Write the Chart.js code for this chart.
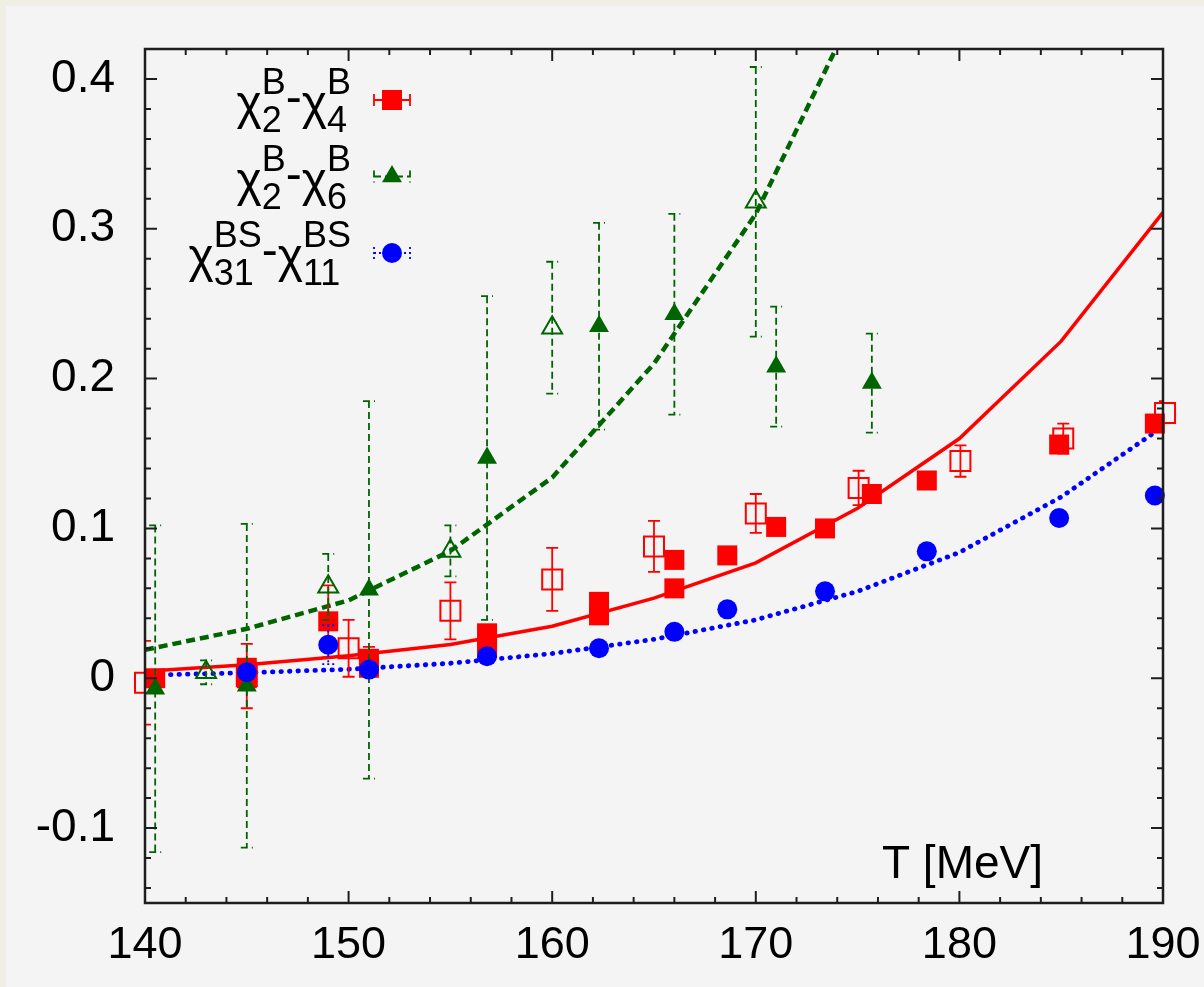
<!DOCTYPE html>
<html>
<head>
<meta charset="utf-8">
<script src="https://cdn.jsdelivr.net/npm/chart.js@4/dist/chart.umd.min.js"></script>
<style>
  html, body { margin: 0; padding: 0; background: #efefe3; overflow: hidden; }
  #chart { display: block; }
</style>
</head>
<body>
<canvas id="chart" width="1204" height="987"></canvas>
<script>
// ── DATA ──────────────────────────────────────────────────────────────────────

const xTicks = [140, 150, 160, 170, 180, 190];
const yTicks = [-0.1, 0, 0.1, 0.2, 0.3, 0.4];

// model curves
const curveT = [140, 145, 150, 155, 160, 165, 170, 175, 180, 185, 190];
const curveChi4 = [0.0047, 0.009, 0.015, 0.0225, 0.0347, 0.0535, 0.077, 0.1135, 0.160, 0.225, 0.311];
const curveBS = [0.002, 0.0037, 0.006, 0.010, 0.0165, 0.026, 0.039, 0.058, 0.084, 0.121, 0.168];
const curveT6 = [140, 145, 150, 155, 160, 165, 170, 175];
const curveChi6 = [0.019, 0.033, 0.052, 0.085, 0.134, 0.21, 0.31, 0.45];

// chi2-chi4, filled squares
const chi4T = [140.5, 145, 145, 149, 151, 151, 156.8, 156.8, 162.3, 162.3, 166, 166, 168.6, 171, 173.4, 175.7, 178.4, 184.9, 189.6];
const chi4V = [0.000, 0.007, 0.000, 0.038, 0.013, 0.007, 0.030, 0.020, 0.051, 0.042, 0.079, 0.060, 0.082, 0.101, 0.100, 0.123, 0.132, 0.156, 0.170];
const chi4E = [0.004, 0.004, 0.004, 0.024, 0.008, 0.006, 0.005, 0.005, 0.005, 0.005, 0.004, 0.004, 0.004, 0.004, 0.004, 0.004, 0.004, 0.004, 0.004];

// chi2-chi4, open squares
const chi4oT = [140.0, 145.0, 150.0, 155.0, 160.0, 165.0, 170.0, 175.05, 180.05, 185.1, 190.1];
const chi4oV = [-0.003, 0.0015, 0.020, 0.045, 0.066, 0.088, 0.110, 0.127, 0.145, 0.160, 0.177];
const chi4oE = [0.028, 0.0215, 0.019, 0.019, 0.021, 0.017, 0.013, 0.0115, 0.0105, 0.010, 0.008];

// chi2-chi6, filled triangles
const chi6T = [140.5, 145.0, 151.0, 156.8, 162.3, 166.0, 171.0, 175.7];
const chi6V = [-0.007, -0.005, 0.059, 0.147, 0.235, 0.243, 0.208, 0.197];
const chi6E = [0.109, 0.108, 0.126, 0.108, 0.069, 0.067, 0.040, 0.033];

// chi2-chi6, open triangles
const chi6oT = [143.0, 149.0, 155.0, 160.0, 170.0];
const chi6oV = [0.004, 0.061, 0.085, 0.234, 0.318];
const chi6oE = [0.008, 0.022, 0.017, 0.044, 0.090];

// chi31-chi11 (BS), circles
const bsT = [145.0, 149.0, 151.0, 156.8, 162.3, 166.0, 168.6, 173.4, 178.4, 184.9, 189.6];
const bsV = [0.004, 0.0224, 0.0058, 0.0147, 0.020, 0.031, 0.046, 0.058, 0.0847, 0.107, 0.122];
const bsE = [0.003, 0.013, 0.003, 0.003, 0.003, 0.003, 0.003, 0.003, 0.003, 0.003, 0.003];

const keyLabels = [
  [{ text: "χ" }, { sub: "2", sup: "B" }, { text: "-", raise: 6 }, { text: "χ" }, { sub: "4", sup: "B" }],
  [{ text: "χ" }, { sub: "2", sup: "B" }, { text: "-", raise: 6 }, { text: "χ" }, { sub: "6", sup: "B" }],
  [{ text: "χ" }, { sub: "31", sup: "BS" }, { text: "-", raise: 6 }, { text: "χ" }, { sub: "11", sup: "BS" }]
];

const RED = "#ff0000";
const GREEN = "#006400";
const BLUE = "#0000ff";
const FONT = '"Liberation Sans", Arial, sans-serif';

function pts(xs, ys) {
  return xs.map((x, i) => ({ x, y: ys[i] }));
}

// ── PLUGINS ───────────────────────────────────────────────────────────────────

const background = {
  id: "background",
  beforeDraw(chart) {
    const { ctx, width, height } = chart;
    ctx.save();
    ctx.fillStyle = "#efefe3";
    ctx.fillRect(0, 0, width, height);
    ctx.fillStyle = "#f4f4f4";
    ctx.fillRect(6, 6, width - 6, height - 6);
    ctx.restore();
  }
};

const errorBars = {
  id: "errorBars",
  beforeDatasetDraw(chart, args) {
    const ds = chart.data.datasets[args.index];
    if (!ds.errors) return;
    const { ctx, chartArea: a, scales: { x, y } } = chart;
    ctx.save();
    ctx.beginPath();
    ctx.rect(a.left, a.top, a.right - a.left, a.bottom - a.top);
    ctx.clip();
    ctx.strokeStyle = ds.errColor;
    ctx.lineWidth = 1.8;
    ctx.setLineDash(ds.errDash || []);
    ds.data.forEach((p, i) => {
      const px = x.getPixelForValue(p.x);
      const top = y.getPixelForValue(p.y + ds.errors[i]);
      const bot = y.getPixelForValue(p.y - ds.errors[i]);
      ctx.beginPath();
      ctx.moveTo(px, top);
      ctx.lineTo(px, bot);
      ctx.moveTo(px - 6, top);
      ctx.lineTo(px + 6, top);
      ctx.moveTo(px - 6, bot);
      ctx.lineTo(px + 6, bot);
      ctx.stroke();
    });
    ctx.restore();
  }
};

function drawKeyLabel(ctx, tokens, right, base) {
  const main = "48px " + FONT;
  const small = "36px " + FONT;
  const items = tokens.map(t => {
    if (t.sub !== undefined) {
      ctx.font = small;
      return { ...t, w: Math.max(ctx.measureText(t.sub).width, ctx.measureText(t.sup).width) };
    }
    ctx.font = main;
    return { ...t, w: ctx.measureText(t.text).width };
  });
  let xPos = right - items.reduce((s, t) => s + t.w, 0);
  items.forEach(t => {
    if (t.sub !== undefined) {
      ctx.font = small;
      ctx.fillText(t.sup, xPos, base - 25);
      ctx.fillText(t.sub, xPos, base + 13);
    } else {
      ctx.font = main;
      ctx.fillText(t.text, xPos, base - (t.raise || 0));
    }
    xPos += t.w;
  });
}

function drawMarker(ctx, kind, cx, cy, color) {
  ctx.fillStyle = color;
  ctx.beginPath();
  if (kind === "square") {
    ctx.rect(cx - 10, cy - 10, 20, 20);
  } else if (kind === "triangle") {
    const r = 11.5;
    ctx.moveTo(cx, cy - r);
    ctx.lineTo(cx + r * Math.sin(2 * Math.PI / 3), cy + r / 2);
    ctx.lineTo(cx - r * Math.sin(2 * Math.PI / 3), cy + r / 2);
    ctx.closePath();
  } else {
    ctx.arc(cx, cy, 10, 0, Math.PI * 2);
  }
  ctx.fill();
}

const frameAndKey = {
  id: "frameAndKey",
  afterDatasetsDraw(chart) {
    const { ctx, chartArea: a, scales: { x, y } } = chart;
    ctx.save();

    // inward ticks on all four sides
    ctx.strokeStyle = "#1e1e1e";
    ctx.lineWidth = 2;
    ctx.beginPath();
    for (let t = 142; t < 190; t += 2) {
      const px = x.getPixelForValue(t);
      const len = t % 10 === 0 ? 12 : 6;
      ctx.moveTo(px, a.bottom);
      ctx.lineTo(px, a.bottom - len);
      ctx.moveTo(px, a.top);
      ctx.lineTo(px, a.top + len);
    }
    for (let i = -7; i <= 20; i++) {
      const py = y.getPixelForValue(i * 0.02);
      const len = i % 5 === 0 ? 12 : 6;
      ctx.moveTo(a.left, py);
      ctx.lineTo(a.left + len, py);
      ctx.moveTo(a.right, py);
      ctx.lineTo(a.right - len, py);
    }
    ctx.stroke();
    ctx.lineWidth = 2.5;
    ctx.strokeRect(a.left, a.top, a.right - a.left, a.bottom - a.top);

    // axis title
    ctx.fillStyle = "#000";
    ctx.font = "46px " + FONT;
    ctx.textAlign = "right";
    ctx.textBaseline = "alphabetic";
    ctx.fillText("T [MeV]", a.right - 120, a.bottom - 25);

    // key
    ctx.textAlign = "left";
    const kinds = ["square", "triangle", "circle"];
    const colors = [RED, GREEN, BLUE];
    const dashes = [[], [7, 4], [2, 3]];
    keyLabels.forEach((tokens, i) => {
      const base = a.top + 70 + i * 76.5;
      const my = a.top + 51 + i * 76.5;
      const mx = a.left + 247;
      ctx.fillStyle = "#000";
      drawKeyLabel(ctx, tokens, a.left + 206, base);
      ctx.strokeStyle = colors[i];
      ctx.lineWidth = 1.8;
      ctx.setLineDash(dashes[i]);
      ctx.beginPath();
      ctx.moveTo(mx - 18, my);
      ctx.lineTo(mx + 18, my);
      ctx.moveTo(mx - 18, my - 6);
      ctx.lineTo(mx - 18, my + 6);
      ctx.moveTo(mx + 18, my - 6);
      ctx.lineTo(mx + 18, my + 6);
      ctx.stroke();
      ctx.setLineDash([]);
      drawMarker(ctx, kinds[i], mx, my, colors[i]);
    });
    ctx.restore();
  }
};

// ── CHART ─────────────────────────────────────────────────────────────────────

const canvas = document.getElementById("chart");

new Chart(canvas, {
  type: "scatter",
  data: {
    datasets: [
      {
        type: "line",
        data: pts(curveT6, curveChi6),
        borderColor: GREEN,
        borderWidth: 4.5,
        borderDash: [9, 5],
        pointRadius: 0,
        tension: 0,
        fill: false,
        order: 8
      },
      {
        type: "line",
        data: pts(curveT, curveChi4),
        borderColor: RED,
        borderWidth: 3.5,
        pointRadius: 0,
        tension: 0,
        fill: false,
        order: 7
      },
      {
        type: "line",
        data: pts(curveT, curveBS),
        borderColor: BLUE,
        borderWidth: 4.8,
        borderDash: [0.5, 8],
        borderCapStyle: "round",
        pointRadius: 0,
        tension: 0,
        fill: false,
        order: 6
      },
      {
        data: pts(chi4oT, chi4oV),
        errors: chi4oE,
        errColor: RED,
        pointStyle: "rect",
        pointRadius: 14.14,
        pointBackgroundColor: "rgba(0,0,0,0)",
        pointBorderColor: RED,
        pointBorderWidth: 2,
        clip: false,
        order: 5
      },
      {
        data: pts(chi4T, chi4V),
        errors: chi4E,
        errColor: RED,
        pointStyle: "rect",
        pointRadius: 14.14,
        pointBackgroundColor: RED,
        pointBorderColor: RED,
        pointBorderWidth: 0,
        clip: false,
        order: 4
      },
      {
        data: pts(chi6oT, chi6oV),
        errors: chi6oE,
        errColor: GREEN,
        errDash: [7, 4],
        pointStyle: "triangle",
        pointRadius: 11.5,
        pointBackgroundColor: "rgba(0,0,0,0)",
        pointBorderColor: GREEN,
        pointBorderWidth: 2,
        clip: false,
        order: 3
      },
      {
        data: pts(chi6T, chi6V),
        errors: chi6E,
        errColor: GREEN,
        errDash: [7, 4],
        pointStyle: "triangle",
        pointRadius: 11.5,
        pointBackgroundColor: GREEN,
        pointBorderColor: GREEN,
        pointBorderWidth: 0,
        clip: false,
        order: 2
      },
      {
        data: pts(bsT, bsV),
        errors: bsE,
        errColor: BLUE,
        errDash: [2, 3],
        pointStyle: "circle",
        pointRadius: 10,
        pointBackgroundColor: BLUE,
        pointBorderColor: BLUE,
        pointBorderWidth: 0,
        clip: false,
        order: 1
      }
    ]
  },
  options: {
    responsive: false,
    animation: false,
    events: [],
    layout: { padding: { left: 0, top: 49, right: 41, bottom: 0 } },
    plugins: {
      legend: { display: false },
      tooltip: { enabled: false }
    },
    scales: {
      x: {
        type: "linear",
        min: 140,
        max: 190,
        afterBuildTicks: scale => { scale.ticks = xTicks.map(v => ({ value: v })); },
        afterFit: scale => {
          scale.height = 84;
          scale.paddingLeft = 0;
          scale.paddingRight = 0;
        },
        grid: { display: false, drawTicks: false },
        border: { display: false },
        ticks: {
          color: "#000",
          padding: 16,
          maxRotation: 0,
          font: { family: FONT, size: 45 }
        }
      },
      y: {
        type: "linear",
        min: -0.15,
        max: 0.42,
        afterBuildTicks: scale => { scale.ticks = yTicks.map(v => ({ value: v })); },
        afterFit: scale => {
          scale.width = 145;
          scale.paddingTop = 0;
          scale.paddingBottom = 0;
        },
        grid: { display: false, drawTicks: false },
        border: { display: false },
        ticks: {
          color: "#000",
          padding: 30,
          font: { family: FONT, size: 46 },
          callback: value => (Math.abs(value) < 1e-9 ? "0" : String(+value.toFixed(1)))
        }
      }
    }
  },
  plugins: [background, errorBars, frameAndKey]
});
</script>
</body>
</html>
